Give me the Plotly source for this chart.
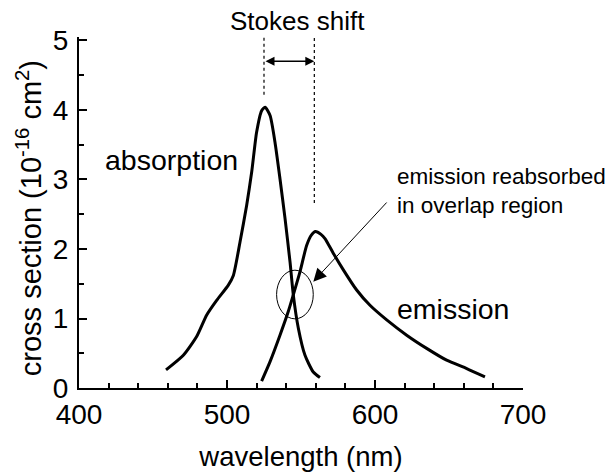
import plotly.graph_objects as go

# ---- data ----
absorption_nm = [458.8, 470.5, 479.5, 486.3, 493.0, 500.9, 504.3, 508.8, 513.3, 516.7,
                 520.0, 523.4, 525.7, 529.1, 532.4, 535.8, 539.2, 542.6, 544.8, 548.2,
                 552.7, 558.3, 562.8]
absorption_cs = [0.26, 0.47, 0.74, 1.05, 1.26, 1.48, 1.62, 2.10, 2.63, 3.11,
                 3.68, 3.99, 4.04, 3.92, 3.54, 3.01, 2.44, 1.81, 1.34, 0.86,
                 0.47, 0.23, 0.15]

emission_nm = [523.4, 529.1, 535.8, 541.4, 544.8, 549.3, 553.8, 557.0, 559.8, 563.5,
               566.2, 571.8, 578.6, 587.6, 596.6, 607.9, 621.4, 634.9, 648.4, 662.0, 674.3]
emission_cs = [0.10, 0.38, 0.76, 1.10, 1.34, 1.67, 2.05, 2.20, 2.25, 2.21,
               2.15, 1.94, 1.70, 1.41, 1.19, 0.98, 0.76, 0.57, 0.40, 0.28, 0.16]

absorption_peak_nm = 525
emission_peak_nm = 559

x_ticks = [400, 500, 600, 700]
y_ticks = [0, 1, 2, 3, 4, 5]

FONT = "Liberation Sans, Arial, Helvetica, sans-serif"

fig = go.Figure()
fig.add_trace(go.Scatter(x=absorption_nm, y=absorption_cs, mode="lines",
                         line=dict(color="black", width=3, shape="spline", smoothing=0.6),
                         showlegend=False, hoverinfo="skip"))
fig.add_trace(go.Scatter(x=emission_nm, y=emission_cs, mode="lines",
                         line=dict(color="black", width=3, shape="spline", smoothing=0.6),
                         showlegend=False, hoverinfo="skip"))

# Stokes shift dotted markers
fig.add_shape(type="line", x0=absorption_peak_nm, x1=absorption_peak_nm, y0=4.22, y1=5.05,
              xref="x", yref="y", line=dict(color="black", width=1.2, dash="dot"))
fig.add_shape(type="line", x0=emission_peak_nm, x1=emission_peak_nm, y0=2.66, y1=5.05,
              xref="x", yref="y", line=dict(color="black", width=1.2, dash="dot"))

# overlap ellipse
fig.add_shape(type="circle", x0=533.5, x1=558.3, y0=0.995, y1=1.695,
              xref="x", yref="y", line=dict(color="black", width=1))

annotations = [
    # double-headed Stokes arrow
    dict(x=emission_peak_nm, y=4.70, ax=absorption_peak_nm, ay=4.70, xref="x", yref="y",
         axref="x", ayref="y", text="", showarrow=True, arrowhead=2, startarrowhead=2,
         arrowside="end+start", arrowsize=1.2, startarrowsize=1.2, arrowwidth=1.5,
         arrowcolor="black", standoff=0, startstandoff=0),
    # pointer to overlap
    dict(x=558.3, y=1.53, ax=608.8, ay=2.69, xref="x", yref="y", axref="x", ayref="y",
         text="", showarrow=True, arrowhead=2, arrowsize=2.6, arrowwidth=1,
         arrowcolor="black", standoff=0),
    dict(x=547.3, y=1.047, xref="x", yref="paper", text="Stokes shift", showarrow=False,
         font=dict(family=FONT, size=26, color="black"), xanchor="center", yanchor="middle"),
    dict(x=462.2, y=3.28, xref="x", yref="y", text="absorption", showarrow=False,
         font=dict(family=FONT, size=28.5, color="black"), xanchor="center", yanchor="middle"),
    dict(x=652.7, y=1.14, xref="x", yref="y", text="emission", showarrow=False,
         font=dict(family=FONT, size=28.5, color="black"), xanchor="center", yanchor="middle"),
    dict(x=613.5, y=2.83, xref="x", yref="y", text="emission reabsorbed<br>in overlap region",
         showarrow=False, align="left",
         font=dict(family=FONT, size=22.5, color="black"), xanchor="left", yanchor="middle"),
    # y-axis title
    dict(x=-0.111, y=0.483, xref="paper", yref="paper",
         text="cross section (10<sup>-16</sup> cm<sup>2</sup>)", textangle=-90,
         showarrow=False, font=dict(family=FONT, size=29, color="black"),
         xanchor="center", yanchor="middle"),
]

fig.update_layout(
    width=613, height=476,
    margin=dict(l=79, r=90, t=37, b=88),
    paper_bgcolor="white", plot_bgcolor="white",
    font=dict(family=FONT, color="black"),
    annotations=annotations,
    xaxis=dict(range=[400, 700], tickvals=x_ticks, showgrid=False, zeroline=False,
               automargin=False,
               showline=True, linecolor="black", linewidth=2,
               ticks="inside", ticklen=8, tickwidth=2, tickcolor="black",
               minor=dict(ticks="inside", dtick=20, ticklen=5, tickwidth=1.5, tickcolor="black"),
               tickfont=dict(family=FONT, size=28, color="black"),
               ticklabelstandoff=0,
               title=dict(text="wavelength (nm)", font=dict(family=FONT, size=27.5, color="black"),
                          standoff=18)),
    yaxis=dict(range=[0, 5.05], tickvals=y_ticks, showgrid=False, zeroline=False,
               automargin=False,
               showline=True, linecolor="black", linewidth=2,
               ticks="inside", ticklen=8, tickwidth=2, tickcolor="black",
               minor=dict(ticks="inside", dtick=0.5, ticklen=5, tickwidth=1.5, tickcolor="black"),
               tickfont=dict(family=FONT, size=28, color="black"),
               ticklabelstandoff=3),
)

fig.write_html("out.html", config={"displayModeBar": False},
               post_script="document.body.style.margin='0';document.body.style.padding='0';")
